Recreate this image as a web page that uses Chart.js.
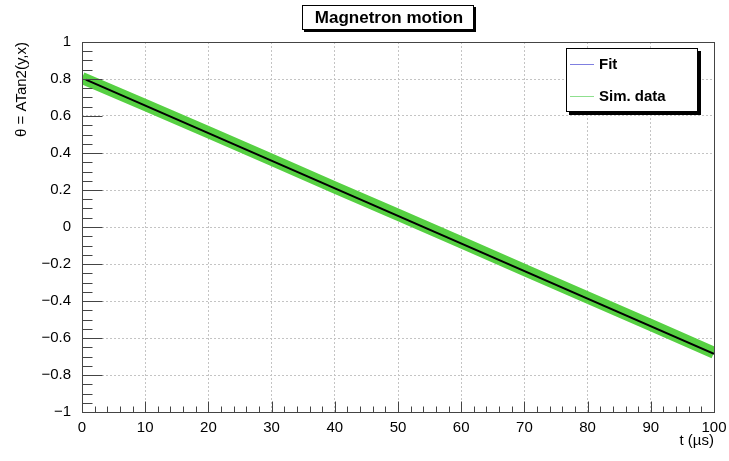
<!DOCTYPE html>
<html>
<head>
<meta charset="utf-8">
<script src="https://cdn.jsdelivr.net/npm/chart.js@4/dist/chart.umd.min.js"></script>
<style>
html,body{margin:0;padding:0;background:#fff;}
#wrap{width:729px;height:461px;position:relative;}
</style>
</head>
<body>
<div id="wrap"><canvas id="c" width="729" height="461"></canvas></div>
<script>
// ---- data ----
const simTimes  = [0, 10, 20, 30, 40, 50, 60, 70, 80, 90, 100];
const simTheta  = [0.805, 0.660, 0.512, 0.363, 0.214, 0.066, -0.083, -0.232, -0.381, -0.530, -0.680];
const fitTimes  = [0.6, 100];
const fitTheta  = [0.797, -0.686];
const xTickValues = [0, 10, 20, 30, 40, 50, 60, 70, 80, 90, 100];
const yTickValues = [-1, -0.8, -0.6, -0.4, -0.2, 0, 0.2, 0.4, 0.6, 0.8, 1];
const titleText = "Magnetron motion";
const xTitle = "t (\u00b5s)";
const yTitle = "\u03b8 = ATan2(y,x)";
const legendLabels = ["Fit", "Sim. data"];

const FONT = "'Liberation Sans', Arial, Helvetica, sans-serif";

function fmt(v){
  const r = Math.round(v*10)/10;
  if (Math.abs(r) < 1e-9) return "0";
  const s = Math.abs(r).toString();
  return (r < 0 ? "\u2212" : "") + s;
}

const rootPlugin = {
  id: 'rootStyle',
  afterDraw(chart){
    const ctx = chart.ctx;
    const a = chart.chartArea;
    const xs = chart.scales.x, ys = chart.scales.y;
    ctx.save();
    // frame
    ctx.strokeStyle = '#444';
    ctx.lineWidth = 1;
    const L = Math.round(a.left)+0.5, R = Math.round(a.right)+0.5, T = Math.round(a.top)+0.5, B = Math.round(a.bottom)+0.5;
    ctx.strokeRect(L, T, R-L, B-T);
    // x ticks
    ctx.beginPath();
    for (let i=0;i<=50;i++){
      const v = i*2;
      const px = Math.round(xs.getPixelForValue(v))+0.5;
      const len = (i%5===0) ? 11 : 6;
      ctx.moveTo(px, B); ctx.lineTo(px, B-len);
    }
    // y ticks
    for (let i=0;i<=40;i++){
      const v = -1 + i*0.05;
      const py = Math.round(ys.getPixelForValue(v))+0.5;
      const len = (i%4===0) ? 20 : 10;
      ctx.moveTo(L, py); ctx.lineTo(L+len, py);
    }
    ctx.stroke();

    // axis titles
    ctx.fillStyle = '#000';
    ctx.font = "15px " + FONT;
    ctx.textAlign = 'right';
    ctx.textBaseline = 'middle';
    ctx.fillText(xTitle, 714, 441);
    ctx.save();
    ctx.translate(22, 42);
    ctx.rotate(-Math.PI/2);
    ctx.textAlign = 'right';
    ctx.textBaseline = 'middle';
    ctx.fillText(yTitle, 0, 0);
    ctx.restore();

    // title box
    ctx.fillStyle = '#000';
    ctx.fillRect(304, 7, 172, 25);
    ctx.fillStyle = '#fff';
    ctx.fillRect(302, 5, 172, 25);
    ctx.strokeStyle = '#000';
    ctx.strokeRect(302.5, 5.5, 171, 24);
    ctx.fillStyle = '#000';
    ctx.font = "bold 17px " + FONT;
    ctx.textAlign = 'center';
    ctx.textBaseline = 'middle';
    ctx.fillText(titleText, 389, 18);

    // legend box
    ctx.fillStyle = '#000';
    ctx.fillRect(569, 51, 132, 64);
    ctx.fillStyle = '#fff';
    ctx.fillRect(566, 48, 132, 64);
    ctx.strokeStyle = '#000';
    ctx.strokeRect(566.5, 48.5, 131, 63);
    const legendColors = ['#7f7fe0', '#8fe08f'];
    const ly = [64, 96];
    for (let k=0;k<2;k++){
      ctx.strokeStyle = legendColors[k];
      ctx.lineWidth = 1;
      ctx.beginPath();
      ctx.moveTo(570, ly[k]+0.5); ctx.lineTo(594, ly[k]+0.5);
      ctx.stroke();
      ctx.fillStyle = '#000';
      ctx.font = "bold 15px " + FONT;
      ctx.textAlign = 'left';
      ctx.textBaseline = 'middle';
      ctx.fillText(legendLabels[k], 599, ly[k]+1);
    }
    ctx.restore();
  }
};

const chart = new Chart(document.getElementById('c'), {
  type: 'line',
  data: {
    datasets: [
      {
        label: 'Sim. data',
        data: simTimes.map((t,i)=>({x:t, y:simTheta[i]})),
        borderColor: 'rgb(86,208,66)',
        borderWidth: 12,
        pointRadius: 0,
        tension: 0,
        fill: false,
        clip: 0,
        order: 2
      },
      {
        label: 'Fit',
        data: fitTimes.map((t,i)=>({x:t, y:fitTheta[i]})),
        borderColor: '#000',
        borderWidth: 2,
        pointRadius: 0,
        tension: 0,
        fill: false,
        clip: 0,
        order: 1
      }
    ]
  },
  options: {
    responsive: false,
    animation: false,
    devicePixelRatio: 1,
    layout: { padding: { left: 0, top: 42, right: 15, bottom: 0 } },
    plugins: { legend: { display: false }, title: { display: false }, tooltip: { enabled: false } },
    scales: {
      x: {
        type: 'linear',
        min: 0, max: 100,
        afterBuildTicks(scale){ scale.ticks = xTickValues.map(v=>({value:v})); },
        afterFit(scale){ scale.height = 49; scale.paddingLeft = 0; scale.paddingRight = 0; },
        grid: { color: '#c4c4c4', lineWidth: 1, drawTicks: false },
        border: { display: false, dash: [2,2] },
        ticks: {
          padding: 7,
          color: '#000',
          font: { family: FONT, size: 15 },
          maxRotation: 0,
          autoSkip: false,
          callback: v => fmt(v)
        }
      },
      y: {
        type: 'linear',
        min: -1, max: 1,
        afterBuildTicks(scale){ scale.ticks = yTickValues.map(v=>({value:v})); },
        afterFit(scale){ scale.width = 82; scale.paddingTop = 0; scale.paddingBottom = 0; },
        grid: { color: '#c4c4c4', lineWidth: 1, drawTicks: false },
        border: { display: false, dash: [2,2] },
        ticks: {
          padding: 11,
          color: '#000',
          font: { family: FONT, size: 15 },
          autoSkip: false,
          callback: v => fmt(v)
        }
      }
    }
  },
  plugins: [rootPlugin]
});
</script>
</body>
</html>
